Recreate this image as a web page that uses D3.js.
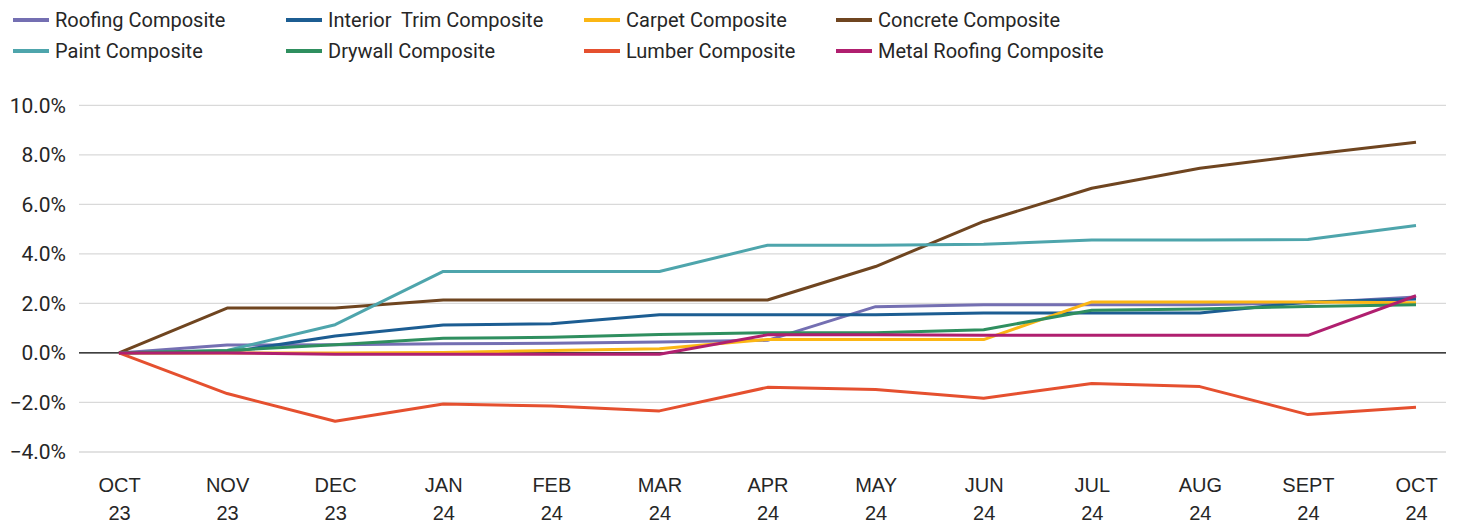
<!DOCTYPE html>
<html>
<head>
<meta charset="utf-8">
<script src="https://cdn.jsdelivr.net/npm/d3@7/dist/d3.min.js"></script>
<style>
  html, body { margin: 0; padding: 0; background: #fff; }
  svg { display: block; font-family: Roboto, "Noto Sans", sans-serif; }
</style>
</head>
<body>
<svg id="chart" width="1459" height="525"></svg>
<script>
// ---- data ----
const monthLabels = ["OCT", "NOV", "DEC", "JAN", "FEB", "MAR", "APR", "MAY", "JUN", "JUL", "AUG", "SEPT", "OCT"];
const yearLabels  = ["23", "23", "23", "24", "24", "24", "24", "24", "24", "24", "24", "24", "24"];
const yTicks = [-4, -2, 0, 2, 4, 6, 8, 10];

const seriesNames = ["Roofing Composite", "Interior  Trim Composite", "Carpet Composite", "Concrete Composite",
                     "Paint Composite", "Drywall Composite", "Lumber Composite", "Metal Roofing Composite"];
const seriesColors = ["#746fb2", "#1c5d92", "#fbb614", "#6f4520", "#4ea5ac", "#2f8f5f", "#e5502f", "#b01f6f"];

const roofing      = [0, 0.32, 0.33, 0.37, 0.39, 0.44, 0.51, 1.87, 1.95, 1.95, 1.95, 2.02, 2.26];
const interiorTrim = [0, 0.02, 0.68, 1.13, 1.18, 1.54, 1.54, 1.54, 1.61, 1.61, 1.61, 2.06, 2.18];
const carpet       = [0, 0.0, 0.0, 0.02, 0.10, 0.17, 0.54, 0.54, 0.54, 2.06, 2.06, 2.06, 2.03];
const concrete     = [0, 1.81, 1.81, 2.14, 2.14, 2.14, 2.14, 3.49, 5.31, 6.65, 7.46, 8.00, 8.51];
const paint        = [0, 0.10, 1.14, 3.29, 3.29, 3.29, 4.35, 4.35, 4.39, 4.56, 4.56, 4.58, 5.15];
const drywall      = [0, 0.10, 0.33, 0.59, 0.63, 0.74, 0.82, 0.82, 0.94, 1.72, 1.77, 1.88, 1.95];
const lumber       = [0, -1.64, -2.76, -2.06, -2.14, -2.34, -1.39, -1.48, -1.83, -1.23, -1.36, -2.49, -2.19];
const metalRoofing = [0, 0.0, -0.05, -0.05, -0.05, -0.05, 0.73, 0.73, 0.71, 0.71, 0.71, 0.71, 2.31];

const seriesValues = [roofing, interiorTrim, carpet, concrete, paint, drywall, lumber, metalRoofing];

// ---- layout ----
const svg = d3.select("#chart");
const gridLeft = 79, gridRight = 1446;
const idx = d3.range(monthLabels.length);

const x = d3.scalePoint().domain(idx).range([119, 1416]);
const y = d3.scaleLinear().domain([-4, 10]).range([452, 105.3]);

// gridlines
svg.append("g").selectAll("line")
  .data(yTicks.filter(d => d !== 0))
  .join("line")
  .attr("x1", gridLeft).attr("x2", gridRight)
  .attr("y1", d => y(d)).attr("y2", d => y(d))
  .attr("stroke", "#d9d9d9").attr("stroke-width", 1.3);

// y axis labels
const yAxis = d3.axisLeft(y).tickValues(yTicks).tickSize(0).tickPadding(0)
  .tickFormat(d => d3.format(".1f")(d) + "%");
const gy = svg.append("g").attr("transform", "translate(66,0)").call(yAxis);
gy.select(".domain").remove();
gy.selectAll("text").attr("font-size", 21).attr("fill", "#262626")
  .attr("font-family", "Roboto, sans-serif");

// zero line
svg.append("line")
  .attr("x1", gridLeft).attr("x2", gridRight)
  .attr("y1", y(0)).attr("y2", y(0))
  .attr("stroke", "#000").attr("stroke-width", 1.3);

// x axis labels (two lines)
const xAxis = d3.axisBottom(x).tickSize(0).tickFormat(() => "");
const gx = svg.append("g").attr("transform", "translate(0,470)").call(xAxis);
gx.select(".domain").remove();
gx.selectAll(".tick").each(function(d) {
  const t = d3.select(this);
  t.append("text").attr("y", 22).attr("text-anchor", "middle")
    .attr("font-size", 20).attr("fill", "#262626").text(monthLabels[d]);
  t.append("text").attr("y", 50).attr("text-anchor", "middle")
    .attr("font-size", 20).attr("fill", "#262626").text(yearLabels[d]);
});

// lines
const line = d3.line().x((d, i) => x(i)).y(d => y(d));
svg.append("g").selectAll("path")
  .data(seriesValues)
  .join("path")
  .attr("d", d => line(d))
  .attr("fill", "none")
  .attr("stroke", (d, i) => seriesColors[i])
  .attr("stroke-width", 3)
  .attr("stroke-linejoin", "round");

// legend
const legendCols = [13, 286, 584, 836];
const legendRows = [20, 51];
const lg = svg.append("g").selectAll("g")
  .data(seriesNames)
  .join("g")
  .attr("transform", (d, i) => `translate(${legendCols[i % 4]},${legendRows[Math.floor(i / 4)]})`);
lg.append("line").attr("x1", 0).attr("x2", 36).attr("y1", 0).attr("y2", 0)
  .attr("stroke", (d, i) => seriesColors[i]).attr("stroke-width", 4);
lg.append("text").attr("x", 42).attr("dy", "0.35em")
  .attr("font-size", 20).attr("fill", "#262626")
  .style("white-space", "pre")
  .text(d => d);
</script>
</body>
</html>
